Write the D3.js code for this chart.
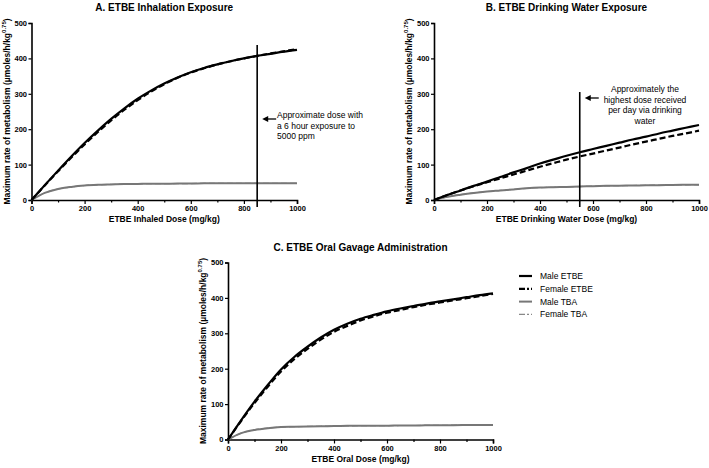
<!DOCTYPE html>
<html><head><meta charset="utf-8">
<script src="https://cdn.jsdelivr.net/npm/d3@7"></script>
<style>body{margin:0;background:#fff}svg{font-family:"Liberation Sans",Arial,sans-serif}</style>
</head><body><svg id="c" width="709" height="468"></svg>
<script>
const doses = [0,50,100,150,200,250,300,350,400,450,500,550,600,650,700,750,800,850,900,950,1000];
// Panel A - inhalation
const aMaleETBE   = [0,42,83,123,161,196,229,259,286,309,329,346,361,373,383,392,400,407,413,419,424];
const aFemaleETBE = [0,41,81,120,157,192,225,255,282,306,327,345,360,372,383,392,400,407,414,420,426];
const aMaleTBA    = [0,20,31,37,41,43,44,45,45.5,46,46,46.5,46.5,47,47,47,47,47,47,47,47];
const aFemaleTBA  = [0,20,31,37,41,43,44,45,45.5,46,46,46.5,46.5,47,47,47,47,47,47,47,47];
// Panel B - drinking water
const bMaleETBE   = [0,14,27,40,52,65,78,90,103,114,125,135,144,153,162,171,179,188,196,204,212];
const bFemaleETBE = [0,14,27,39,50,61,72,83,94,104,114,123,131,140,148,157,165,173,181,188,196];
const bMaleTBA    = [0,9,15,20,24,27,30,33,35,36,37,38,39,40,40.5,41,41.5,42,42.5,43,43];
const bFemaleTBA  = [0,9,15,20,24,27,30,33,35,36,37,38,39,40,40.5,41,41.5,42,42.5,43,43];
// Panel C - oral gavage
const cMaleETBE   = [0,55,107,154,198,233,262,288,310,327,341,352,362,370,377,384,390,396,402,408,413];
const cFemaleETBE = [0,53,103,149,192,227,256,282,304,321,336,348,358,366,374,381,387,393,399,405,411];
const cMaleTBA    = [0,18,27,32,35,36,37,37.5,38,38.5,39,39,39,39.5,39.5,40,40,40.5,41,41,41];
const cFemaleTBA  = [0,18,27,32,35,36,37,37.5,38,38.5,39,39,39,39.5,39.5,40,40,40.5,41,41,41];

const xTicks = [0,200,400,600,800,1000];
const xMinor = [100,300,500,700,900];
const yTicks = [0,100,200,300,400,500];
const seriesNames = ["Male ETBE","Female ETBE","Male TBA","Female TBA"];

const styles = [
  {color:"#000", dash:null, w:2.2},
  {color:"#000", dash:"6,3", w:2.2},
  {color:"#777", dash:null, w:2},
  {color:"#888", dash:"6,3", w:1.2}
];

const svg = d3.select("#c");

function panel(cfg){
  const x = d3.scaleLinear().domain([0,1000]).range([cfg.x0, cfg.x1]);
  const y = d3.scaleLinear().domain([0,500]).range([cfg.y0, cfg.y1]);
  const g = svg.append("g");
  g.append("text").attr("x",(cfg.x0+cfg.x1)/2).attr("y",cfg.y1-12).attr("text-anchor","middle")
    .attr("font-size",10).attr("font-weight","bold").text(cfg.title);
  const xa = g.append("g").attr("transform",`translate(0,${cfg.y0})`)
    .call(d3.axisBottom(x).tickValues(xTicks).tickSize(4).tickPadding(2).tickFormat(d3.format("d")));
  g.append("g").attr("transform",`translate(0,${cfg.y0})`)
    .call(d3.axisBottom(x).tickValues(xMinor).tickSize(2.5).tickFormat(""))
    .call(s=>s.select(".domain").remove());
  const ya = g.append("g").attr("transform",`translate(${cfg.x0},0)`)
    .call(d3.axisLeft(y).tickValues(yTicks).tickSize(3).tickPadding(1.5).tickFormat(d3.format("d")));
  [xa,ya].forEach(a=>{
    a.select(".domain").attr("stroke-width",1.6);
    a.selectAll("text").attr("font-size",7.5).attr("font-weight","bold").attr("font-family","Liberation Sans, Arial, sans-serif");
  });
  g.selectAll(".tick line").attr("stroke-width",1.2);
  g.append("text").attr("x",(cfg.x0+cfg.x1)/2).attr("y",cfg.y0+22).attr("text-anchor","middle")
    .attr("font-size",8.5).attr("font-weight","bold").text(cfg.xlabel);
  const yl = g.append("text").attr("transform",`translate(${cfg.x0-22},${(cfg.y0+cfg.y1)/2}) rotate(-90)`)
    .attr("text-anchor","middle").attr("font-size",8.5).attr("font-weight","bold");
  yl.append("tspan").text("Maximum rate of metabolism (\u00b5moles/h/kg");
  yl.append("tspan").attr("font-size",6).attr("dy",-4).text("0.75");
  yl.append("tspan").attr("dy",4).text(")");
  const line = d3.line().x((d,i)=>x(doses[i])).y(d=>y(d)).curve(d3.curveCatmullRom);
  [3,2,1,0].forEach(k=>{
    g.append("path").datum(cfg.data[k]).attr("d",line).attr("fill","none")
      .attr("stroke",styles[k].color).attr("stroke-width",styles[k].w)
      .attr("stroke-dasharray",styles[k].dash);
  });
  if(cfg.refX!==undefined){
    g.append("line").attr("x1",x(cfg.refX)).attr("x2",x(cfg.refX))
      .attr("y1",y(cfg.refTop)).attr("y2",cfg.y0+7).attr("stroke","#000").attr("stroke-width",1.6);
    const ax = x(cfg.refX)+cfg.arrowOff, ay = cfg.arrowY;
    g.append("line").attr("x1",ax+4).attr("x2",ax+14).attr("y1",ay).attr("y2",ay).attr("stroke","#000").attr("stroke-width",1.3);
    g.append("path").attr("d",`M${ax},${ay}L${ax+6},${ay-3}L${ax+6},${ay+3}Z`).attr("fill","#000");
    const t = g.append("text").attr("font-size",8.5).attr("text-anchor",cfg.noteAnchor);
    cfg.note.forEach((s,i)=>t.append("tspan").attr("x",cfg.noteX).attr("y",cfg.noteY+i*10.5).text(s));
  }
}

panel({x0:31.5,x1:297,y0:200,y1:23,title:"A. ETBE Inhalation Exposure",xlabel:"ETBE Inhaled Dose (mg/kg)",
  data:[aMaleETBE,aFemaleETBE,aMaleTBA,aFemaleTBA],refX:850,refTop:438,arrowOff:5,arrowY:119,
  note:["Approximate dose with","a 6 hour exposure to","5000 ppm"],noteX:277,noteY:118,noteAnchor:"start"});
panel({x0:434,x1:699,y0:200,y1:23,title:"B. ETBE Drinking Water Exposure",xlabel:"ETBE Drinking Water Dose (mg/kg)",
  data:[bMaleETBE,bFemaleETBE,bMaleTBA,bFemaleTBA],refX:550,refTop:305,arrowOff:5,arrowY:98,
  note:["Approximately the","highest dose received","per day via drinking","water"],noteX:645,noteY:92,noteAnchor:"middle"});
panel({x0:228,x1:493,y0:439.5,y1:262.5,title:"C. ETBE Oral Gavage Administration",xlabel:"ETBE Oral Dose (mg/kg)",
  data:[cMaleETBE,cFemaleETBE,cMaleTBA,cFemaleTBA]});

const lg = svg.append("g");
seriesNames.forEach((n,i)=>{
  const yy = 276+i*12.8;
  lg.append("line").attr("x1",519).attr("x2",532).attr("y1",yy).attr("y2",yy)
    .attr("stroke",styles[i].color).attr("stroke-width",styles[i].w)
    .attr("stroke-dasharray",styles[i].dash?"6,2,2,2":null);
  lg.append("text").attr("x",540).attr("y",yy+3).attr("font-size",8.5).text(n);
});
</script></body></html>
